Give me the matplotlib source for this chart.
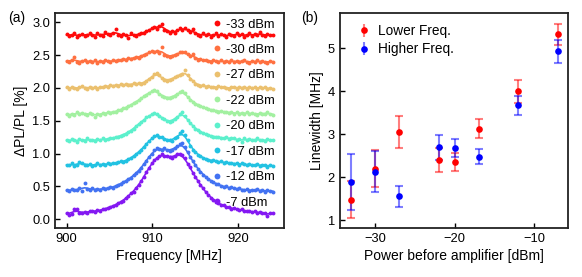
import numpy as np
import matplotlib
matplotlib.use('Agg')
import matplotlib.pyplot as plt

plt.rcParams['font.family'] = ['Liberation Sans', 'DejaVu Sans']
plt.rcParams['axes.unicode_minus'] = True

# (a) spectra, frequency grid 900..924 MHz in 0.3 MHz steps
freq_start, freq_step, n_freq = 900.0, 0.3, 81
power_labels = ['-33 dBm', '-30 dBm', '-27 dBm', '-22 dBm',
                '-20 dBm', '-17 dBm', '-12 dBm', '-7 dBm']
colors = ['#ff0a0a', '#ff7040', '#ebc06e', '#a2f0a0',
          '#5cf0cc', '#22c2e2', '#4272f2', '#8418f2']

dpl_m33 = [2.82, 2.79, 2.81, 2.83, 2.78, 2.80, 2.82, 2.79, 2.81, 2.84, 2.80, 2.78, 2.83, 2.81,
           2.79, 2.85, 2.82, 2.80, 2.83, 2.90, 2.81, 2.79, 2.82, 2.80, 2.76, 2.83, 2.81, 2.79,
           2.82, 2.84, 2.83, 2.86, 2.88, 2.91, 2.93, 2.90, 2.95, 2.98, 2.89, 2.87, 2.84, 2.86,
           2.83, 2.88, 2.91, 2.89, 2.92, 2.88, 2.85, 2.90, 2.83, 2.81, 2.79, 2.83, 2.80, 2.82,
           2.78, 2.81, 2.83, 2.79, 2.82, 2.80, 2.77, 2.82, 2.81, 2.79, 2.84, 2.80, 2.82, 2.78,
           2.81, 2.83, 2.79, 2.82, 2.80, 2.85, 2.81, 2.79, 2.82, 2.80, 2.81]
dpl_m30 = [2.41, 2.39, 2.42, 2.47, 2.40, 2.38, 2.41, 2.43, 2.39, 2.41, 2.40, 2.42, 2.38, 2.41,
           2.40, 2.43, 2.41, 2.39, 2.42, 2.41, 2.43, 2.42, 2.44, 2.43, 2.45, 2.44, 2.46, 2.47,
           2.46, 2.49, 2.50, 2.52, 2.54, 2.56, 2.55, 2.57, 2.53, 2.62, 2.50, 2.48, 2.47, 2.49,
           2.50, 2.52, 2.54, 2.55, 2.54, 2.51, 2.48, 2.52, 2.45, 2.43, 2.44, 2.42, 2.43, 2.41,
           2.40, 2.42, 2.41, 2.39, 2.42, 2.40, 2.41, 2.39, 2.42, 2.40, 2.41, 2.39, 2.41, 2.42,
           2.40, 2.38, 2.41, 2.40, 2.42, 2.39, 2.41, 2.40, 2.38, 2.41, 2.40]
dpl_m27 = [2.01, 1.99, 2.02, 2.00, 1.98, 2.01, 2.03, 2.00, 1.99, 2.02, 2.00, 2.01, 1.98, 2.02,
           2.01, 2.03, 2.02, 2.04, 2.03, 2.05, 2.03, 2.06, 2.04, 2.06, 2.05, 2.05, 2.07, 2.06,
           2.07, 2.06, 2.08, 2.10, 2.13, 2.17, 2.21, 2.23, 2.19, 2.15, 2.12, 2.11, 2.12, 2.14,
           2.16, 2.18, 2.20, 2.22, 2.28, 2.20, 2.14, 2.10, 2.06, 2.05, 2.03, 2.04, 2.02, 2.03,
           2.01, 2.02, 2.00, 2.03, 2.01, 2.02, 2.00, 1.98, 2.02, 2.01, 1.99, 2.02, 2.00, 2.01,
           1.99, 2.02, 2.00, 2.01, 1.98, 2.02, 2.00, 2.01, 1.99, 2.00, 1.98]
dpl_m22 = [1.60, 1.58, 1.61, 1.59, 1.63, 1.60, 1.62, 1.61, 1.59, 1.62, 1.60, 1.56, 1.61, 1.59,
           1.62, 1.61, 1.63, 1.62, 1.64, 1.63, 1.66, 1.67, 1.69, 1.70, 1.72, 1.74, 1.77, 1.79,
           1.81, 1.84, 1.87, 1.90, 1.93, 1.95, 1.97, 1.95, 1.91, 1.88, 1.86, 1.85, 1.84, 1.86,
           1.88, 1.91, 1.94, 1.96, 1.92, 1.86, 1.82, 1.79, 1.76, 1.74, 1.72, 1.71, 1.69, 1.68,
           1.66, 1.67, 1.65, 1.64, 1.65, 1.63, 1.64, 1.62, 1.63, 1.61, 1.63, 1.60, 1.62, 1.61,
           1.63, 1.60, 1.62, 1.61, 1.59, 1.62, 1.60, 1.61, 1.63, 1.60, 1.59]
dpl_m20 = [1.21, 1.19, 1.22, 1.20, 1.18, 1.22, 1.21, 1.19, 1.23, 1.20, 1.21, 1.19, 1.22, 1.20,
           1.23, 1.21, 1.22, 1.24, 1.23, 1.25, 1.26, 1.27, 1.29, 1.30, 1.33, 1.35, 1.38, 1.42,
           1.45, 1.48, 1.51, 1.55, 1.58, 1.60, 1.62, 1.61, 1.58, 1.54, 1.52, 1.49, 1.48, 1.50,
           1.52, 1.56, 1.60, 1.63, 1.58, 1.51, 1.46, 1.42, 1.38, 1.36, 1.33, 1.31, 1.30, 1.28,
           1.27, 1.26, 1.25, 1.26, 1.24, 1.23, 1.25, 1.22, 1.24, 1.23, 1.21, 1.22, 1.18, 1.23,
           1.21, 1.22, 1.20, 1.21, 1.23, 1.20, 1.21, 1.19, 1.22, 1.20, 1.21]
dpl_m17 = [0.83, 0.82, 0.85, 0.81, 0.83, 0.87, 0.86, 0.83, 0.82, 0.84, 0.81, 0.83, 0.85, 0.82,
           0.84, 0.83, 0.85, 0.84, 0.86, 0.85, 0.87, 0.88, 0.87, 0.89, 0.92, 0.93, 0.96, 0.99,
           1.02, 1.06, 1.10, 1.15, 1.19, 1.23, 1.27, 1.29, 1.26, 1.25, 1.22, 1.20, 1.21, 1.19,
           1.23, 1.26, 1.31, 1.34, 1.28, 1.20, 1.12, 1.06, 1.02, 0.98, 0.96, 0.93, 0.92, 0.91,
           0.89, 0.90, 0.88, 0.87, 0.88, 0.86, 0.87, 0.85, 0.86, 0.84, 0.86, 0.83, 0.85, 0.84,
           0.82, 0.84, 0.83, 0.82, 0.84, 0.81, 0.83, 0.82, 0.80, 0.83, 0.81]
dpl_m12 = [0.44, 0.43, 0.46, 0.45, 0.44, 0.47, 0.43, 0.55, 0.46, 0.44, 0.47, 0.45, 0.46, 0.44,
           0.48, 0.46, 0.47, 0.49, 0.48, 0.51, 0.52, 0.54, 0.57, 0.58, 0.61, 0.63, 0.67, 0.70,
           0.74, 0.78, 0.84, 0.89, 0.95, 1.00, 1.05, 1.08, 1.07, 1.06, 1.08, 1.05, 1.04, 1.06,
           1.08, 1.11, 1.14, 1.16, 1.10, 1.02, 0.95, 0.88, 0.82, 0.77, 0.72, 0.68, 0.65, 0.61,
           0.58, 0.56, 0.54, 0.53, 0.51, 0.49, 0.50, 0.47, 0.49, 0.47, 0.46, 0.47, 0.45, 0.44,
           0.46, 0.43, 0.45, 0.44, 0.46, 0.43, 0.44, 0.42, 0.45, 0.43, 0.42]
dpl_m7 = [0.10, 0.07, 0.08, 0.15, 0.15, 0.09, 0.10, 0.11, 0.10, 0.12, 0.13, 0.11, 0.14, 0.13,
          0.15, 0.16, 0.17, 0.19, 0.20, 0.22, 0.24, 0.27, 0.28, 0.32, 0.35, 0.40, 0.42, 0.47,
          0.52, 0.58, 0.64, 0.72, 0.78, 0.85, 0.90, 0.94, 0.97, 0.99, 0.96, 0.97, 0.95, 0.93,
          0.97, 0.99, 1.00, 0.98, 0.93, 0.84, 0.80, 0.70, 0.65, 0.58, 0.52, 0.47, 0.41, 0.37,
          0.33, 0.30, 0.27, 0.24, 0.22, 0.21, 0.18, 0.19, 0.16, 0.17, 0.15, 0.14, 0.15, 0.12,
          0.13, 0.12, 0.11, 0.12, 0.10, 0.11, 0.09, 0.10, 0.05, 0.09, 0.10]
spectra = [dpl_m33, dpl_m30, dpl_m27, dpl_m22, dpl_m20, dpl_m17, dpl_m12, dpl_m7]

# (b) linewidths
power = [-33, -30, -27, -22, -20, -17, -12, -7]
lw_low = [1.47, 2.20, 3.05, 2.40, 2.36, 3.13, 4.00, 5.33]
lw_low_err = [0.43, 0.43, 0.37, 0.27, 0.21, 0.22, 0.26, 0.25]
lw_high = [1.89, 2.13, 1.55, 2.70, 2.68, 2.48, 3.68, 4.93]
lw_high_err = [0.66, 0.47, 0.24, 0.29, 0.20, 0.18, 0.22, 0.26]


def smooth(x, y, sigma=0.4):
    """Gaussian-weighted running mean, used as the guide line."""
    w = np.exp(-0.5 * ((x[:, None] - x[None, :]) / sigma) ** 2)
    return (w @ y) / w.sum(axis=1)


def style_axes(ax):
    ax.tick_params(direction='in', length=3.5, width=1.0, labelsize=9.3)
    for spine in ax.spines.values():
        spine.set_linewidth(1.3)
        spine.set_color('#222222')


fig = plt.figure(figsize=(5.82, 2.77), dpi=100)
ax1 = fig.add_axes([0.0945, 0.176, 0.393, 0.776])
ax2 = fig.add_axes([0.584, 0.176, 0.3915, 0.776])

freq = freq_start + freq_step * np.arange(n_freq)
for y, c, lab in zip(spectra, colors, power_labels):
    y = np.asarray(y)
    ax1.plot(freq, y, 'o', ms=2.8, mew=0, color=c, label=lab)
    ax1.plot(freq, smooth(freq, y), '-', lw=1.2, color=c)

ax1.set_xlim(898.65, 925.3)
ax1.set_ylim(-0.137, 3.137)
ax1.set_xticks([900, 910, 920])
ax1.set_yticks([0.0, 0.5, 1.0, 1.5, 2.0, 2.5, 3.0])
ax1.set_xlabel('Frequency [MHz]', fontsize=10, labelpad=3)
ax1.set_ylabel('ΔPL/PL [%]', fontsize=10, labelpad=3)
ax1.legend(loc='upper right', bbox_to_anchor=(0.985, 1.0), frameon=False,
           fontsize=9.3, handlelength=0.5, handletextpad=0.45, labelspacing=1.04,
           borderaxespad=0.3, borderpad=0.1, markerscale=1.5)
style_axes(ax1)

ebar = dict(fmt='none', alpha=0.5, elinewidth=1.5, capsize=3.0, capthick=1.5)
ax2.errorbar(power, lw_low, yerr=lw_low_err, ecolor='red', **ebar)
ax2.errorbar(power, lw_high, yerr=lw_high_err, ecolor='blue', **ebar)
ax2.plot(power, lw_low, 'o', color='red', ms=4.8, mew=0)
ax2.plot(power, lw_high, 'o', color='blue', ms=4.8, mew=0)

# legend handles with errorbar glyphs
h_low = ax2.errorbar([], [], yerr=[], fmt='o', color='red', ms=4.8, mew=0,
                     ecolor=(1, 0, 0, 0.5), elinewidth=1.5, capsize=3.0, capthick=1.5)
h_high = ax2.errorbar([], [], yerr=[], fmt='o', color='blue', ms=4.8, mew=0,
                      ecolor=(0, 0, 1, 0.5), elinewidth=1.5, capsize=3.0, capthick=1.5)
ax2.legend([h_low, h_high], ['Lower Freq.', 'Higher Freq.'], loc='upper left',
           bbox_to_anchor=(0.03, 1.0), frameon=False, fontsize=9.8,
           handlelength=1.0, handletextpad=0.5, labelspacing=0.3, borderaxespad=0.4)

ax2.set_xlim(-34.4, -5.8)
ax2.set_ylim(0.81, 5.82)
ax2.set_xticks([-30, -20, -10])
ax2.set_yticks([1, 2, 3, 4, 5])
ax2.set_xlabel('Power before amplifier [dBm]', fontsize=10, labelpad=3)
ax2.set_ylabel('Linewidth [MHz]', fontsize=10, labelpad=3)
style_axes(ax2)

fig.text(0.014, 0.935, '(a)', fontsize=10, va='center')
fig.text(0.518, 0.935, '(b)', fontsize=10, va='center')

fig.savefig('out.png', dpi=100)
